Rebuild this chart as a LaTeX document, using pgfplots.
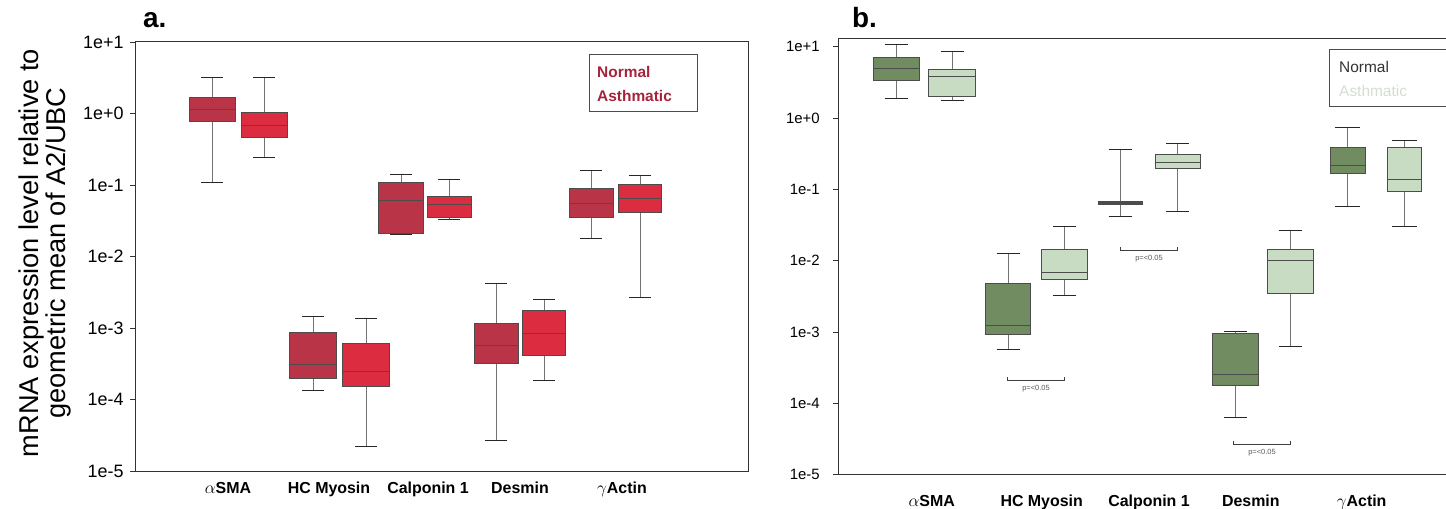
\documentclass[border=0pt]{standalone}
\usepackage{pgfplots}
\pgfplotsset{compat=1.18}
\usepackage{fontspec}
\setmainfont{Liberation Sans}

\definecolor{nA}{RGB}{186,52,72}
\definecolor{aA}{RGB}{220,44,64}
\definecolor{nB}{RGB}{112,140,96}
\definecolor{aB}{RGB}{200,220,196}
\definecolor{legA}{RGB}{165,35,60}
\definecolor{legB}{RGB}{212,222,208}

\pgfplotsset{
  bwhisk/.style={draw=black!55, line width=0.8bp, mark=none},
  bcapst/.style={draw=black!85, line width=1bp, mark=none},
  mybox/.style={draw=black!70, line width=0.8bp, mark=none},
  bmed/.style={draw=black!70, line width=0.8bp, mark=none},
}
% #1 position, #2 half box width, #3 half cap width,
% #4 lower whisker, #5 lower quartile, #6 median, #7 upper quartile, #8 upper whisker, #9 fill
\newcommand\bxp[9]{%
  \pgfmathsetmacro\xl{#1-#2}\pgfmathsetmacro\xr{#1+#2}%
  \pgfmathsetmacro\wl{#1-#3}\pgfmathsetmacro\wr{#1+#3}%
  \edef\tmp{%
    \noexpand\addplot[bwhisk] coordinates {(#1,#4) (#1,#5)};
    \noexpand\addplot[bwhisk] coordinates {(#1,#7) (#1,#8)};
    \noexpand\addplot[bcapst] coordinates {(\wl,#4) (\wr,#4)};
    \noexpand\addplot[bcapst] coordinates {(\wl,#8) (\wr,#8)};
    \noexpand\addplot[mybox, fill=#9] coordinates {(\xl,#5) (\xr,#5) (\xr,#7) (\xl,#7)} -- cycle;
    \noexpand\addplot[bmed] coordinates {(\xl,#6) (\xr,#6)};
  }\tmp}

\begin{document}
\begin{tikzpicture}
\useasboundingbox (0bp,0bp) rectangle (1446bp,509bp);

% ---------- panel a ----------
\begin{axis}[at={(135bp,38bp)}, anchor=south west,
  scale only axis, ymode=log, clip=false,
  axis line style={black!80, line width=1bp},
  yminorticks=false,
  ytick={1e-5,1e-4,1e-3,1e-2,1e-1,1,10},
  yticklabels={1e-5,1e-4,1e-3,1e-2,1e-1,1e+0,1e+1},
  ytick pos=left, tick align=outside, major tick length=5bp,
  major tick style={black!80, line width=0.8bp},
  xtick style={draw=none},
  width=613.3bp, height=429bp,
  xmin=135, xmax=748.3, ymin=1e-5, ymax=10,
  yticklabel style={font=\fontsize{18}{20}\selectfont, xshift=-3bp},
  xtick={228,329,428,520,622},
  xticklabels={{$\alpha$SMA},{HC Myosin},{Calponin 1},{Desmin},{$\gamma$Actin}},
  xticklabel style={anchor=base, font=\fontsize{16}{18}\selectfont\bfseries, yshift=-18bp},
]
\bxp{212}{23}{11}{0.108}{0.786}{1.13}{1.70}{3.14}{nA}
\bxp{264}{23}{11}{0.246}{0.46}{0.684}{1.05}{3.18}{aA}
\bxp{313}{23.5}{11}{1.35e-4}{1.96e-4}{3.1e-4}{8.6e-4}{1.46e-3}{nA}
\bxp{366}{23.5}{11}{2.17e-5}{1.53e-4}{2.5e-4}{6.05e-4}{1.35e-3}{aA}
\bxp{401}{22.5}{11}{0.0205}{0.0213}{0.061}{0.110}{0.14}{nA}
\bxp{449}{22}{11}{0.033}{0.0357}{0.053}{0.070}{0.119}{aA}
\bxp{496}{22}{11}{2.69e-5}{3.24e-4}{5.7e-4}{1.17e-3}{4.18e-3}{nA}
\bxp{544}{21.5}{11}{1.86e-4}{4.15e-4}{8.3e-4}{1.79e-3}{2.52e-3}{aA}
\bxp{591}{22}{11}{0.0176}{0.035}{0.056}{0.089}{0.157}{nA}
\bxp{640}{21.5}{11}{2.7e-3}{0.042}{0.066}{0.102}{0.138}{aA}
\end{axis}

% ---------- panel b ----------
\begin{axis}[at={(838.3bp,34.3bp)}, anchor=south west,
  scale only axis, ymode=log, clip=false,
  axis line style={black!80, line width=1bp},
  yminorticks=false,
  ytick={1e-5,1e-4,1e-3,1e-2,1e-1,1,10},
  yticklabels={1e-5,1e-4,1e-3,1e-2,1e-1,1e+0,1e+1},
  ytick pos=left, tick align=outside, major tick length=5bp,
  major tick style={black!80, line width=0.8bp},
  xtick style={draw=none},
  width=609.7bp, height=435.7bp,
  xmin=838.3, xmax=1448, ymin=1e-5, ymax=12.82,
  yticklabel style={font=\fontsize{15}{17}\selectfont, xshift=-10bp},
  xtick={931.7,1041.7,1149,1250.8,1361.7},
  xticklabels={{$\alpha$SMA},{HC Myosin},{Calponin 1},{Desmin},{$\gamma$Actin}},
  xticklabel style={anchor=base, font=\fontsize{16}{18}\selectfont\bfseries, yshift=-27bp},
]
\bxp{896}{23}{11.5}{1.87}{3.38}{4.92}{7.03}{10.7}{nB}
\bxp{952}{23.5}{11.5}{1.77}{2.03}{3.88}{4.82}{8.61}{aB}
\bxp{1008}{22.5}{11.5}{5.78e-4}{9.2e-4}{1.24e-3}{4.86e-3}{0.0128}{nB}
\bxp{1064.7}{23}{11.5}{3.3e-3}{5.4e-3}{6.8e-3}{0.0146}{0.0306}{aB}
\bxp{1120}{22}{11.5}{0.041}{0.062}{0.064}{0.067}{0.36}{black!70}
\bxp{1177.5}{22.5}{11.5}{0.049}{0.199}{0.242}{0.307}{0.437}{aB}
\bxp{1235}{23}{11.5}{6.43e-5}{1.79e-4}{2.55e-4}{9.5e-4}{1.02e-3}{nB}
\bxp{1290}{23}{11.5}{6.37e-4}{3.52e-3}{0.0101}{0.0143}{0.0267}{aB}
\bxp{1347.5}{17.5}{12.5}{0.0584}{0.166}{0.215}{0.385}{0.733}{nB}
\bxp{1404.5}{17}{12.5}{0.0306}{0.0948}{0.14}{0.385}{0.482}{aB}
\end{axis}

\begin{scope}[x=1bp,y=1bp]
% panel letters
\node[anchor=base west, inner sep=0, font=\fontsize{28}{30}\selectfont\bfseries] at (143,481) {a.};
\node[anchor=base west, inner sep=0, font=\fontsize{28}{30}\selectfont\bfseries] at (852,481) {b.};

% y label
\node[rotate=90, align=center, inner sep=0, font=\fontsize{27.3}{28}\selectfont] at (45,256)
  {mRNA expression level relative to\\geometric mean of A2/UBC};

% legend a
\draw[black!70, line width=0.8bp] (589,455) rectangle (697,398);
\node[anchor=west, inner sep=0, text=legA, font=\fontsize{15.5}{17}\selectfont\bfseries] at (597,437) {Normal};
\node[anchor=west, inner sep=0, text=legA, font=\fontsize{15.5}{17}\selectfont\bfseries] at (597,413) {Asthmatic};

% legend b
\draw[black!70, line width=0.8bp] (1329,460) rectangle (1452,403);
\node[anchor=west, inner sep=0, text=black!80, font=\fontsize{15.5}{17}\selectfont] at (1339,442.3) {Normal};
\node[anchor=west, inner sep=0, text=legB, font=\fontsize{15.5}{17}\selectfont] at (1339,418.3) {Asthmatic};

% significance brackets
\draw[black!75, line width=0.8bp] (1007.7,132) -- (1007.7,129) -- (1064,129) -- (1064,132);
\node[inner sep=0, text=black!65, font=\fontsize{7.5}{8}\selectfont] at (1036,120) {p=<0.05};
\draw[black!75, line width=0.8bp] (1120.7,262) -- (1120.7,259) -- (1177.7,259) -- (1177.7,262);
\node[inner sep=0, text=black!65, font=\fontsize{7.5}{8}\selectfont] at (1149,250) {p=<0.05};
\draw[black!75, line width=0.8bp] (1233,67.7) -- (1233,64.7) -- (1290.7,64.7) -- (1290.7,67.7);
\node[inner sep=0, text=black!65, font=\fontsize{7.5}{8}\selectfont] at (1262,56.7) {p=<0.05};
\end{scope}
\end{tikzpicture}
\end{document}
